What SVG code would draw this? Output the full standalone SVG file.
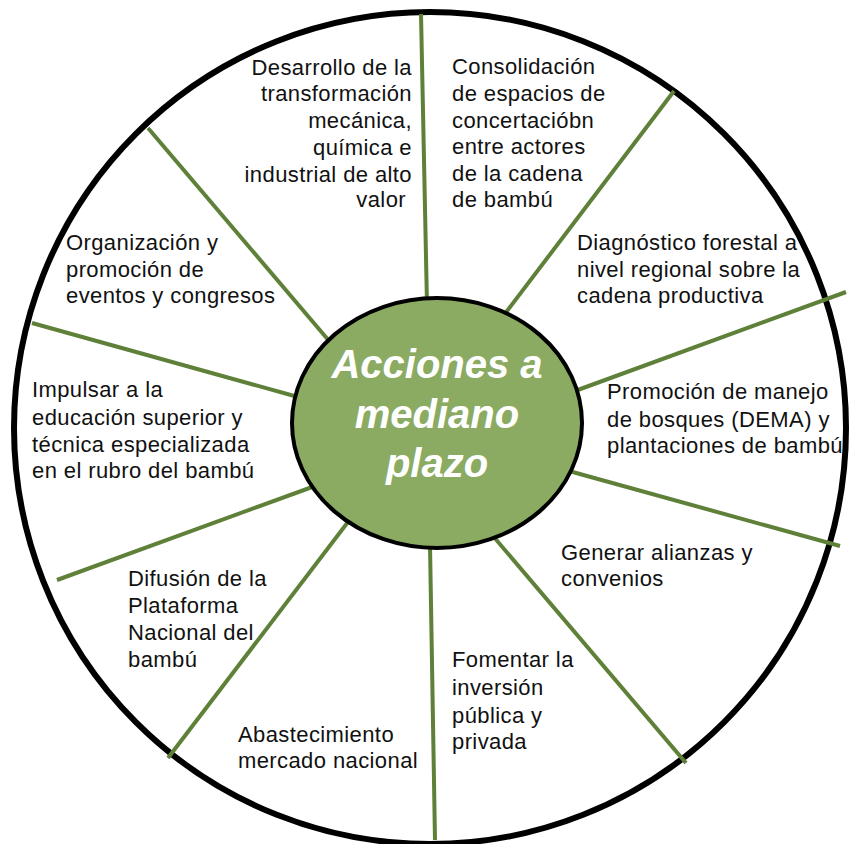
<svg xmlns="http://www.w3.org/2000/svg" width="852" height="844" viewBox="0 0 852 844">
<style>
.lbl{font-family:"Liberation Sans",Arial,sans-serif;font-size:22px;letter-spacing:0.4px;fill:#111}
.r{text-anchor:end}
.spoke{stroke:#5E8038;stroke-width:4;fill:none}
.ctr{font-family:"Liberation Sans",Arial,sans-serif;font-size:40px;font-weight:bold;font-style:italic;fill:#fff;text-anchor:middle}
</style>
<rect width="852" height="844" fill="#fff"/>
<circle id="outer" cx="430" cy="428" r="416" fill="#fff" stroke="#000" stroke-width="6"/>
<g id="connectors">
<line class="spoke" x1="421" y1="14" x2="427" y2="305"/>
<line class="spoke" x1="674" y1="91" x2="504" y2="315"/>
<line class="spoke" x1="846" y1="292" x2="575" y2="391"/>
<line class="spoke" x1="569" y1="471" x2="840" y2="546"/>
<line class="spoke" x1="493" y1="536" x2="686" y2="763"/>
<line class="spoke" x1="430" y1="545" x2="435" y2="840"/>
<line class="spoke" x1="351" y1="518" x2="168" y2="758"/>
<line class="spoke" x1="315" y1="486" x2="57" y2="580"/>
<line class="spoke" x1="32" y1="323" x2="298" y2="397"/>
<line class="spoke" x1="148" y1="128" x2="330" y2="342"/>
</g>
<g id="center">
<ellipse cx="437" cy="423" rx="145" ry="125" fill="#8BAB63" stroke="#000" stroke-width="4"/>
<text class="ctr" x="437" y="378">Acciones a</text>
<text class="ctr" x="437" y="428">mediano</text>
<text class="ctr" x="437" y="477">plazo</text>
</g>
<g id="n1">
<text class="lbl r" x="412" y="75">Desarrollo de la</text>
<text class="lbl r" x="412" y="101">transformación</text>
<text class="lbl r" x="412" y="128">mecánica,</text>
<text class="lbl r" x="412" y="155">química e</text>
<text class="lbl r" x="412" y="182">industrial de alto</text>
<text class="lbl r" x="406" y="207">valor</text>
</g>
<g id="n2">
<text class="lbl" x="452" y="74">Consolidación</text>
<text class="lbl" x="452" y="101">de espacios de</text>
<text class="lbl" x="452" y="128">concertacióbn</text>
<text class="lbl" x="452" y="154">entre actores</text>
<text class="lbl" x="452" y="181">de la cadena</text>
<text class="lbl" x="452" y="207">de bambú</text>
</g>
<g id="n3">
<text class="lbl" x="577" y="250">Diagnóstico forestal a</text>
<text class="lbl" x="577" y="277">nivel regional sobre la</text>
<text class="lbl" x="577" y="303">cadena productiva</text>
</g>
<g id="n4">
<text class="lbl" x="607" y="399">Promoción de manejo</text>
<text class="lbl" x="607" y="427">de bosques (DEMA) y</text>
<text class="lbl" x="607" y="453">plantaciones de bambú</text>
</g>
<g id="n5">
<text class="lbl" x="561" y="560">Generar alianzas y</text>
<text class="lbl" x="561" y="586">convenios</text>
</g>
<g id="n6">
<text class="lbl" x="452" y="667">Fomentar la</text>
<text class="lbl" x="452" y="695">inversión</text>
<text class="lbl" x="452" y="723">pública y</text>
<text class="lbl" x="452" y="749">privada</text>
</g>
<g id="n7">
<text class="lbl" x="238" y="742">Abastecimiento</text>
<text class="lbl" x="238" y="768">mercado nacional</text>
</g>
<g id="n8">
<text class="lbl" x="128" y="586">Difusión de la</text>
<text class="lbl" x="128" y="613">Plataforma</text>
<text class="lbl" x="128" y="640">Nacional del</text>
<text class="lbl" x="128" y="667">bambú</text>
</g>
<g id="n9">
<text class="lbl" x="32" y="397">Impulsar a la</text>
<text class="lbl" x="32" y="425">educación superior y</text>
<text class="lbl" x="32" y="452">técnica especializada</text>
<text class="lbl" x="32" y="478">en el rubro del bambú</text>
</g>
<g id="n10">
<text class="lbl" x="66" y="250">Organización y</text>
<text class="lbl" x="66" y="277">promoción de</text>
<text class="lbl" x="66" y="303">eventos y congresos</text>
</g>
</svg>
